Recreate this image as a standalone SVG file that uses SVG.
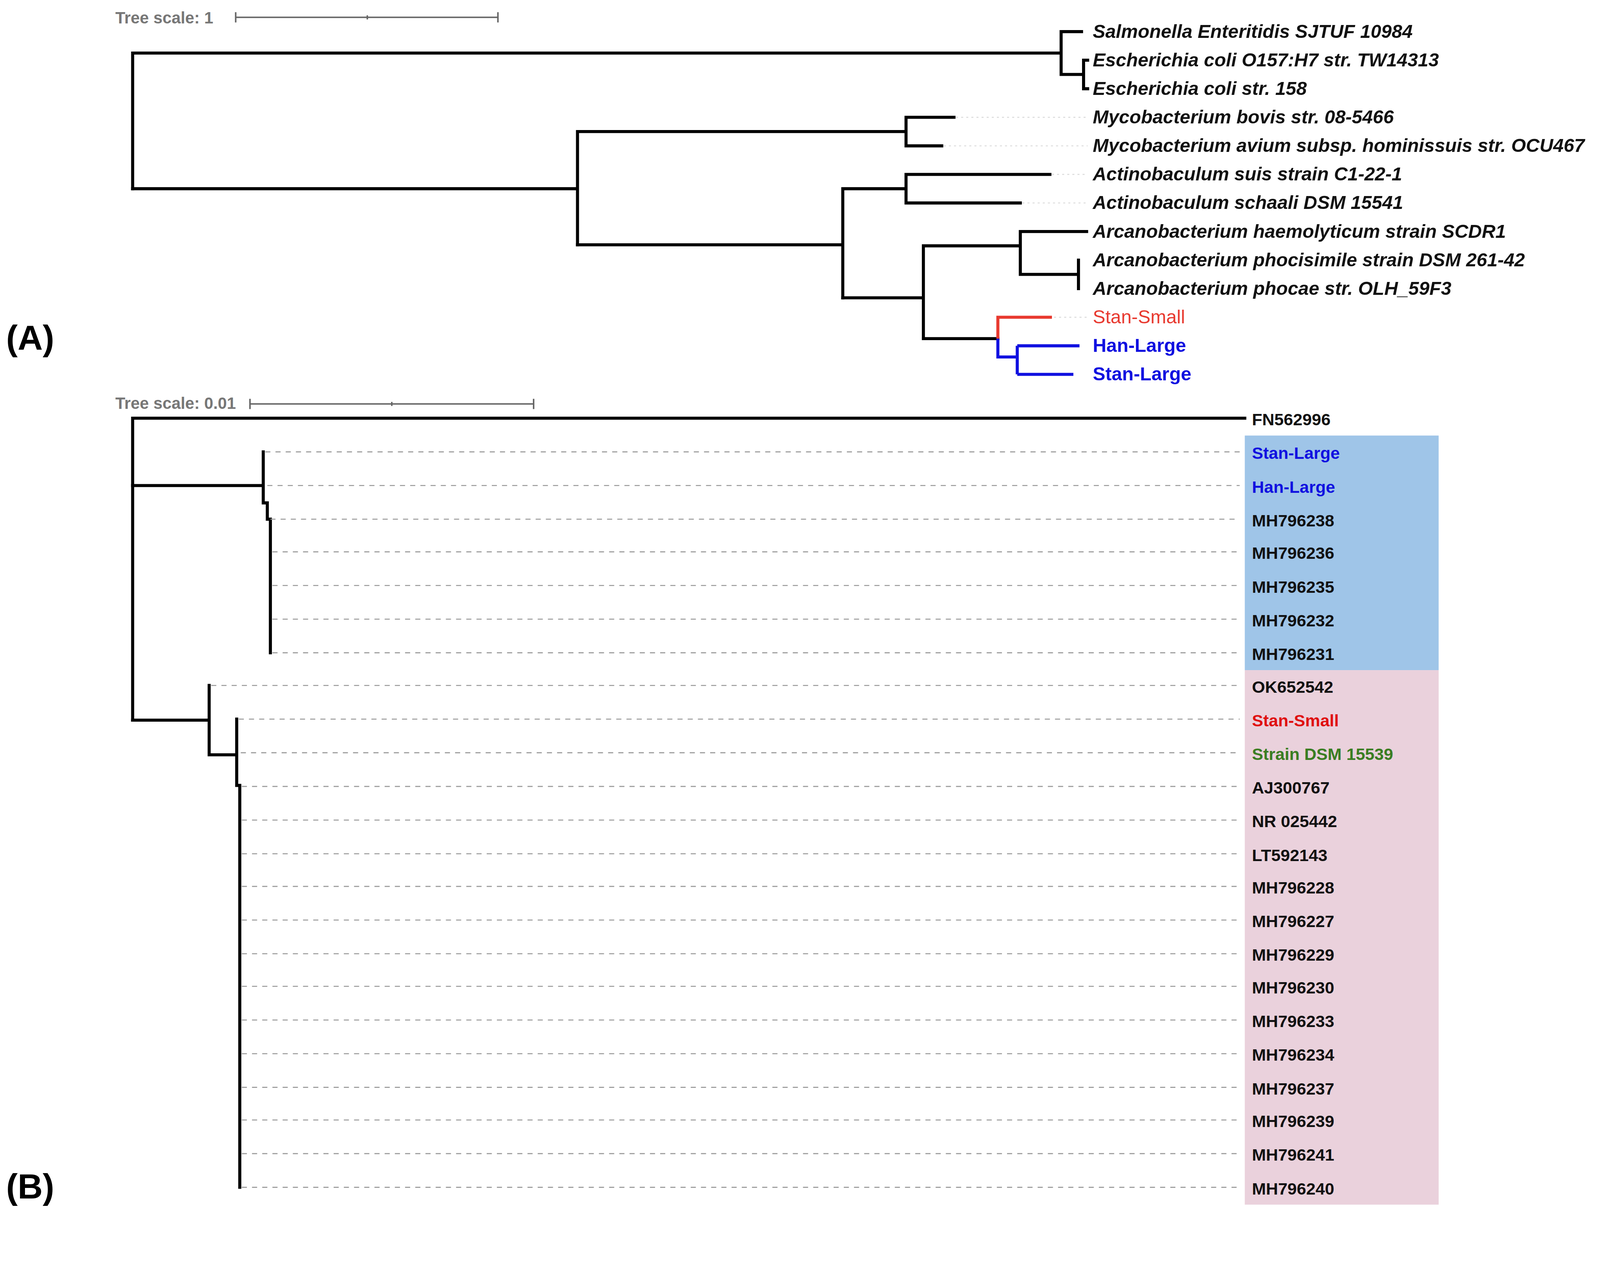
<svg xmlns="http://www.w3.org/2000/svg" width="4335" height="3288" viewBox="0 0 4335 3288">
<style>
.b{fill:none;stroke:#000;stroke-width:3;stroke-linecap:square}
.r{fill:none;stroke:#e8392f;stroke-width:3}
.bl{fill:none;stroke:#1010e0;stroke-width:3}
.d{fill:none;stroke:#999;stroke-width:1;stroke-dasharray:5,5}
.dt{fill:none;stroke:#ddd;stroke-width:1;stroke-dasharray:2,3}
.sc{fill:none;stroke:#666;stroke-width:1.5}
.la{font-family:"Liberation Sans",Arial,sans-serif;font-size:18.5px;font-weight:bold;font-style:italic;fill:#111}
.lb{font-family:"Liberation Sans",Arial,sans-serif;font-size:16.5px;font-weight:bold;fill:#111}
.ts{font-family:"Liberation Sans",Arial,sans-serif;font-size:16px;font-weight:bold;fill:#777}
.pl{font-family:"Liberation Sans",Arial,sans-serif;font-size:34px;font-weight:bold;fill:#000}
</style>
<rect width="4335" height="3288" fill="#fff"/>
<g transform="scale(2.612)">
<g id="panelA-scale">
<text class="ts" x="113" y="23">Tree scale: 1</text>
<path class="sc" d="M231,17H488M231,12V22M488,12V22M360,15V19"/>
</g>
<text id="labelA" class="pl" x="6" y="343">(A)</text>
<g id="treeA-connectors">
<path class="b" d="M130,52V185M130,52H1040M1040,31V73M1040,31H1060M1040,73H1062M1062,59V87M1062,59H1066M1062,87H1066"/>
<path class="b" d="M130,185H566M566,129V240M566,129H888M888,115V143M888,115H935M888,143H923"/>
<path class="b" d="M566,240H826M826,185V292M826,185H888M888,171V199M888,171H1029M888,199H1000"/>
<path class="b" d="M826,292H905M905,241V332M905,241H1000M1000,227V269M1000,227H1065M1000,269H1057M1057,255V283"/>
<path class="b" d="M905,332H978"/>
<path class="r" d="M978,332V311H1031"/>
<path class="bl" d="M978,332V350H997M997,339V367M997,339H1058M997,367H1052"/>
<path class="dt" d="M937,115H1066M925,143H1066M1031,171H1066M1002,199H1066M1033,311H1066"/>
</g>
<g id="treeA-labels">
<text class="la" x="1071" y="37">Salmonella Enteritidis SJTUF 10984</text>
<text class="la" x="1071" y="65">Escherichia coli O157:H7 str. TW14313</text>
<text class="la" x="1071" y="93">Escherichia coli str. 158</text>
<text class="la" x="1071" y="121">Mycobacterium bovis str. 08-5466</text>
<text class="la" x="1071" y="149">Mycobacterium avium subsp. hominissuis str. OCU467</text>
<text class="la" x="1071" y="177">Actinobaculum suis strain C1-22-1</text>
<text class="la" x="1071" y="205">Actinobaculum schaali DSM 15541</text>
<text class="la" x="1071" y="233">Arcanobacterium haemolyticum strain SCDR1</text>
<text class="la" x="1071" y="261">Arcanobacterium phocisimile strain DSM 261-42</text>
<text class="la" x="1071" y="289">Arcanobacterium phocae str. OLH_59F3</text>
<text class="la" x="1071" y="317" style="fill:#e8392f;font-style:normal;font-weight:normal">Stan-Small</text>
<text class="la" x="1071" y="345" style="fill:#1010e0;font-style:normal">Han-Large</text>
<text class="la" x="1071" y="373" style="fill:#1010e0;font-style:normal">Stan-Large</text>
</g>
<g id="panelB-scale">
<text class="ts" x="113" y="401">Tree scale: 0.01</text>
<path class="sc" d="M245,396H523M245,391V401M523,391V401M384,394V398"/>
</g>
<text id="labelB" class="pl" x="6" y="1175">(B)</text>
<g id="clade-boxes">
<rect x="1220" y="427" width="190" height="230" fill="#9fc5e8"/>
<rect x="1220" y="657" width="190" height="524" fill="#ead1dc"/>
</g>
<g id="treeB-connectors">
<path class="b" d="M130,410V706M130,410H1220"/>
<path class="b" d="M130,476H258M258,443V493M258,493H262M262,509V493M262,509H265M265,509V640"/>
<path class="b" d="M130,706H205M205,672V740M205,740H232M232,705V770M232,770H235M235,770V1164"/>
<path class="d" d="M260,443H1215M262,476H1215M265,509H1215M267,541H1215M267,574H1215M267,607H1215M267,640H1215M207,672H1215M234,705H1215M236,738H1215M237,771H1215M237,804H1215M237,837H1215M237,869H1215M237,902H1215M237,935H1215M237,967H1215M237,1000H1215M237,1033H1215M237,1066H1215M237,1098H1215M237,1131H1215M237,1164H1215"/>
</g>
<g id="treeB-labels">
<text class="lb" x="1227" y="417">FN562996</text>
<text class="lb" x="1227" y="450" style="fill:#1010e0">Stan-Large</text>
<text class="lb" x="1227" y="483" style="fill:#1010e0">Han-Large</text>
<text class="lb" x="1227" y="516">MH796238</text>
<text class="lb" x="1227" y="548">MH796236</text>
<text class="lb" x="1227" y="581">MH796235</text>
<text class="lb" x="1227" y="614">MH796232</text>
<text class="lb" x="1227" y="647">MH796231</text>
<text class="lb" x="1227" y="679">OK652542</text>
<text class="lb" x="1227" y="712" style="fill:#e01010">Stan-Small</text>
<text class="lb" x="1227" y="745" style="fill:#3a7d22">Strain DSM 15539</text>
<text class="lb" x="1227" y="778">AJ300767</text>
<text class="lb" x="1227" y="811">NR 025442</text>
<text class="lb" x="1227" y="844">LT592143</text>
<text class="lb" x="1227" y="876">MH796228</text>
<text class="lb" x="1227" y="909">MH796227</text>
<text class="lb" x="1227" y="942">MH796229</text>
<text class="lb" x="1227" y="974">MH796230</text>
<text class="lb" x="1227" y="1007">MH796233</text>
<text class="lb" x="1227" y="1040">MH796234</text>
<text class="lb" x="1227" y="1073">MH796237</text>
<text class="lb" x="1227" y="1105">MH796239</text>
<text class="lb" x="1227" y="1138">MH796241</text>
<text class="lb" x="1227" y="1171">MH796240</text>
</g>
</g>
</svg>
